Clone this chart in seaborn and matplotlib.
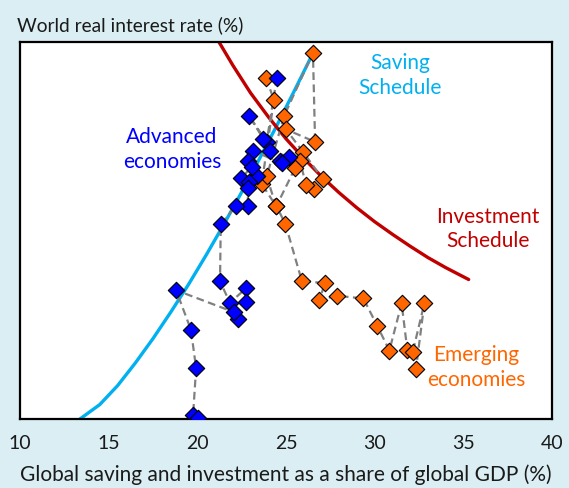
import numpy as np
import pandas as pd
import matplotlib
matplotlib.use("Agg")
import matplotlib.pyplot as plt
import seaborn as sns

# ---------- data ---------- #

# saving schedule (light blue curve)
saving_x = [13.38, 14.5, 15.5, 16.5, 17.5, 18.5, 19.5, 20.5, 21.5, 22.5, 23.5, 24.5, 25.5, 26.5]
saving_y = [0.0, 0.23, 0.53, 0.89, 1.28, 1.70, 2.14, 2.61, 3.10, 3.61, 4.14, 4.68, 5.24, 5.81]

# investment schedule (dark red curve)
invest_x = [21.2, 22.0, 23.0, 24.0, 25.0, 26.0, 27.0, 28.0, 29.0, 30.0, 31.0, 32.0, 33.0, 34.0, 35.3]
invest_y = [6.01, 5.63, 5.19, 4.81, 4.46, 4.15, 3.86, 3.60, 3.36, 3.14, 2.94, 2.75, 2.57, 2.41, 2.22]

# advanced economies (blue diamonds), in path order
adv_x = [24.48, 23.91, 22.93, 23.72, 24.10, 25.19, 24.66, 24.76, 23.12, 22.87, 23.35, 23.07,
         22.45, 22.93, 22.84, 22.86, 22.18, 21.32, 21.28, 21.84, 22.74, 22.74, 22.29, 22.07,
         18.80, 19.64, 19.93, 19.76, 20.04]
adv_y = [5.43, 4.41, 4.82, 4.46, 4.27, 4.17, 4.11, 4.07, 4.27, 4.10, 3.86, 4.01,
         3.83, 3.77, 3.67, 3.39, 3.39, 3.10, 2.19, 1.85, 2.08, 1.86, 1.59, 1.70,
         2.05, 1.42, 0.81, 0.06, 0.02]

# emerging economies (orange diamonds), in path order
emg_x = [23.87, 24.32, 23.63, 24.44, 23.91, 24.89, 26.52, 26.64, 25.00, 25.96, 27.07, 26.60,
         26.13, 25.79, 25.51, 24.46, 24.97, 25.89, 27.20, 26.88, 27.86, 29.36, 30.15, 30.83,
         31.52, 31.84, 32.15, 32.80, 32.33]
emg_y = [5.43, 5.08, 3.74, 3.39, 3.86, 4.82, 5.83, 4.41, 4.61, 4.25, 3.82, 3.66,
         3.72, 4.11, 3.99, 3.39, 3.10, 2.20, 2.16, 1.90, 1.96, 1.92, 1.48, 1.09,
         1.84, 1.10, 1.07, 1.84, 0.80]

x_ticks = [10, 15, 20, 25, 30, 35, 40]

BG = "#DAEEF3"
BLUE = "#0000FF"
ORANGE = "#FF6600"
RED = "#C00000"
CYAN = "#00B0F0"
GREY = "#808080"

sns.set_theme(style="white")
plt.rcParams["font.family"] = ["Lato", "DejaVu Sans"]

saving = pd.DataFrame({"x": saving_x, "y": saving_y})
invest = pd.DataFrame({"x": invest_x, "y": invest_y})
adv = pd.DataFrame({"x": adv_x, "y": adv_y})
emg = pd.DataFrame({"x": emg_x, "y": emg_y})

fig = plt.figure(figsize=(5.69, 4.89), dpi=100, facecolor=BG)
ax = fig.add_axes([20 / 569, 1 - 420 / 489, 532 / 569, 377 / 489])
ax.set_facecolor("white")

# schedules
sns.lineplot(data=saving, x="x", y="y", ax=ax, color=CYAN, linewidth=2.4, sort=False, zorder=2)
sns.lineplot(data=invest, x="x", y="y", ax=ax, color=RED, linewidth=2.4, sort=False, zorder=2)

# dashed paths
for df in (emg, adv):
    sns.lineplot(data=df, x="x", y="y", ax=ax, color=GREY, linewidth=1.6,
                 dashes=False, sort=False, estimator=None, zorder=3).lines[-1].set_dashes([3.5, 2])

# markers
sns.scatterplot(data=emg, x="x", y="y", ax=ax, marker="D", s=70, color=ORANGE,
                edgecolor="black", linewidth=0.8, zorder=4)
sns.scatterplot(data=adv, x="x", y="y", ax=ax, marker="D", s=70, color=BLUE,
                edgecolor="black", linewidth=0.8, zorder=5)

ax.set_xlim(10, 40)
ax.set_ylim(0, 6)
ax.set_xticks(x_ticks)
ax.set_xticklabels([str(t) for t in x_ticks])
ax.set_yticks(range(0, 7))
ax.set_yticklabels([])
ax.tick_params(axis="both", direction="in", length=6, width=1.4, colors="black",
               labelsize=14, pad=11)
ax.tick_params(axis="x", labelcolor="#1a1a1a")
for sp in ax.spines.values():
    sp.set_visible(True)
    sp.set_color("black")
    sp.set_linewidth(1.6)
ax.set_xlabel("Global saving and investment as a share of global GDP (%)", fontsize=15,
              color="#1a1a1a", labelpad=9)
ax.set_ylabel("")

fig.text(17 / 569, 1 - 25 / 489, "World real interest rate (%)", fontsize=13.8,
         color="#1a1a1a", ha="left", va="center")

# annotations
ax.text(31.43, 5.48, "Saving\nSchedule", color=CYAN, fontsize=15, ha="center", va="center",
        linespacing=1.3)
ax.text(18.57, 4.31, "Advanced\neconomies", color=BLUE, fontsize=15, ha="center", va="center",
        linespacing=1.3)
ax.text(36.39, 3.04, "Investment\nSchedule", color=RED, fontsize=15, ha="center", va="center",
        linespacing=1.3)
ax.text(35.71, 0.83, "Emerging\neconomies", color=ORANGE, fontsize=15, ha="center", va="center",
        linespacing=1.3)

fig.savefig("out.png", dpi=100, facecolor=BG)
